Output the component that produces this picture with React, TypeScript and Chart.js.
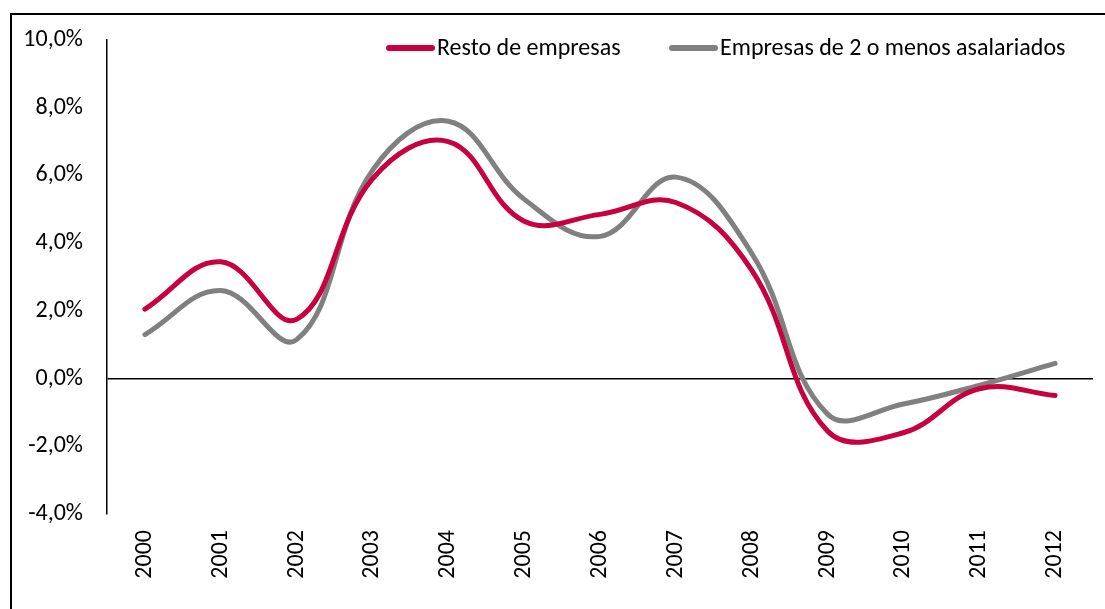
import React, { useEffect, useRef } from "react";
import { Chart, registerables } from "chart.js";

Chart.register(...registerables);

const years = ["2000","2001","2002","2003","2004","2005","2006","2007","2008","2009","2010","2011","2012"];
const restoEmpresas = [2.05, 3.45, 1.75, 5.9, 7.0, 4.65, 4.85, 5.2, 3.2, -1.55, -1.6, -0.3, -0.5];
const empresasPequenas = [1.3, 2.6, 1.15, 6.15, 7.6, 5.3, 4.2, 5.95, 3.7, -1.05, -0.75, -0.2, 0.45];
const seriesLabels = ["Resto de empresas", "Empresas de 2 o menos asalariados"];
const seriesColors = ["#C8003F", "#808080"];

const FONT = "Carlito, Calibri, 'Liberation Sans Narrow', 'Open Sans', sans-serif";

const framePlugin = {
  id: "frame",
  beforeDraw(chart: any) {
    const ctx = chart.ctx;
    ctx.save();
    ctx.fillStyle = "#fff";
    ctx.fillRect(0, 0, chart.width, chart.height);
    ctx.strokeStyle = "#000";
    ctx.lineWidth = 2;
    ctx.beginPath();
    ctx.moveTo(11, chart.height + 5);
    ctx.lineTo(11, 14);
    ctx.lineTo(chart.width + 5, 14);
    ctx.stroke();
    ctx.restore();
  },
};

const legendPlugin = {
  id: "customLegend",
  afterDraw(chart: any) {
    const ctx = chart.ctx;
    const starts = [386, 669];
    ctx.save();
    ctx.font = `24px ${FONT}`;
    ctx.textBaseline = "middle";
    starts.forEach((x, i) => {
      const ds = chart.data.datasets[i];
      ctx.strokeStyle = ds.borderColor;
      ctx.lineWidth = 6;
      ctx.lineCap = "round";
      ctx.beginPath();
      ctx.moveTo(x + 3, 48);
      ctx.lineTo(x + 46, 48);
      ctx.stroke();
      ctx.fillStyle = "#000";
      ctx.fillText(ds.label, x + 51, 49);
    });
    ctx.restore();
  },
};

export default function App() {
  const ref = useRef<HTMLCanvasElement>(null);
  useEffect(() => {
    if (!ref.current) return;
    const chart = new Chart(ref.current, {
      type: "line",
      data: {
        labels: years,
        datasets: [
          {
            label: seriesLabels[0],
            data: restoEmpresas,
            borderColor: seriesColors[0],
            backgroundColor: seriesColors[0],
            borderWidth: 5,
            pointRadius: 0,
            tension: 0.4,
            borderCapStyle: "round",
          },
          {
            label: seriesLabels[1],
            data: empresasPequenas,
            borderColor: seriesColors[1],
            backgroundColor: seriesColors[1],
            borderWidth: 5,
            pointRadius: 0,
            tension: 0.4,
            borderCapStyle: "round",
          },
        ],
      },
      options: {
        responsive: false,
        animation: false,
        layout: { padding: { top: 40, left: 0, right: 12, bottom: 0 } },
        plugins: { legend: { display: false }, tooltip: { enabled: false } },
        scales: {
          x: {
            offset: true,
            border: { display: false },
            grid: { display: false, drawTicks: false },
            ticks: {
              minRotation: 90,
              maxRotation: 90,
              padding: 16,
              color: "#000",
              font: { family: FONT, size: 24 },
            },
            afterFit(scale: any) {
              scale.height = 95;
            },
          },
          y: {
            min: -4,
            max: 10,
            border: { display: true, color: "#000", width: 1.5 },
            grid: {
              drawTicks: false,
              color: (c: any) => (c.tick && c.tick.value === 0 ? "#000" : "rgba(0,0,0,0)"),
              lineWidth: 1.5,
            },
            ticks: {
              stepSize: 2,
              padding: 24,
              color: "#000",
              font: { family: FONT, size: 24 },
              callback: (v: any) => Number(v).toFixed(1).replace(".", ",") + "%",
            },
            afterFit(scale: any) {
              scale.width = 107;
            },
          },
        },
      },
      plugins: [framePlugin, legendPlugin],
    });
    return () => chart.destroy();
  }, []);
  return (
    <div style={{ position: "fixed", left: 0, top: 0, width: 1105, height: 609 }}>
      <canvas ref={ref} width={1105} height={609} />
    </div>
  );
}
